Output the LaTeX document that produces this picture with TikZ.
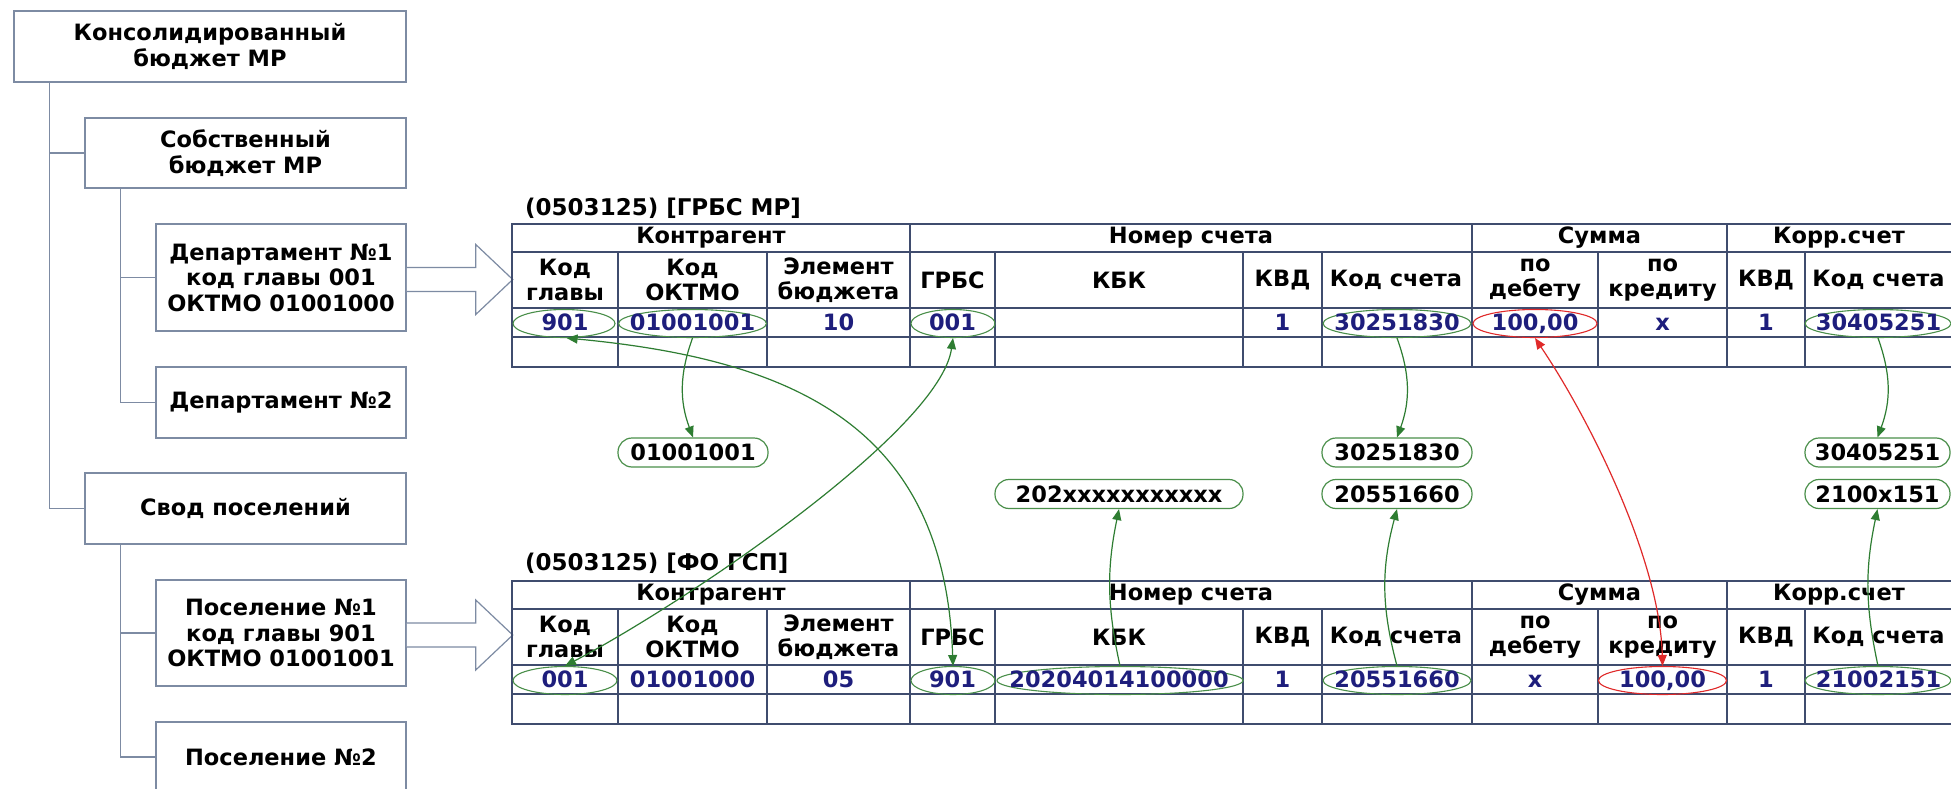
\documentclass[tikz,border=0pt]{standalone}
\usepackage{fontspec}
\setmainfont{DejaVu Sans}
\usetikzlibrary{arrows.meta,shapes.geometric}
\definecolor{boxc}{HTML}{7D8BA3}
\definecolor{gridc}{HTML}{3F4C6E}
\definecolor{valc}{HTML}{1E1E7C}
\definecolor{grn}{HTML}{2E7D32}
\definecolor{ell}{HTML}{4A8F4A}
\definecolor{rd}{HTML}{E02A2A}
\tikzset{
 fnt/.style={font=\bfseries\fontsize{22.5}{25.5}\selectfont},
 lbox/.style={draw=boxc, line width=1.5pt, fill=white, fnt, align=center, inner sep=0pt},
 tree/.style={draw=boxc, line width=1.5pt},
 barrow/.style={draw=boxc, line width=1.2pt, fill=white},
 grid/.style={draw=gridc, line width=1.5pt},
 hdr/.style={fnt, align=center, inner sep=0pt},
 val/.style={fnt, text=valc, inner sep=0pt, text height=16pt, text depth=0pt},
 ov/.style={ellipse, draw=ell, line width=1.1pt, inner sep=0pt, minimum height=28pt},
 ovr/.style={ov, draw=rd},
 pill/.style={draw=ell, rounded corners=14pt, line width=1.2pt, fnt, minimum height=29pt, inner sep=0pt, text height=16pt, text depth=0pt},
 garr/.style={draw=grn, line width=1.2pt, -{Triangle[length=11pt,width=9pt]}},
 garr2/.style={draw=grn, line width=1.2pt, {Triangle[length=11pt,width=9pt]}-{Triangle[length=11pt,width=9pt]}},
 rarr2/.style={draw=rd, line width=1.2pt, {Triangle[length=11pt,width=9pt]}-{Triangle[length=11pt,width=9pt]}}
}
\newcommand\mytab[2]{%
\begin{scope}[yshift=-#2pt]
 \draw[grid] (512,224) rectangle (1952,367);
 \foreach \yy in {252,308,337} \draw[grid] (512,\yy) -- (1952,\yy);
 \foreach \xx in {618,767,995,1243,1322,1598,1805} \draw[grid] (\xx,252) -- (\xx,367);
 \foreach \xx in {910,1472,1727} \draw[grid] (\xx,224) -- (\xx,367);
 \node[hdr] (#1ha) at (711,238) {Контрагент};
 \node[hdr] (#1hb) at (1191,238) {Номер счета};
 \node[hdr] (#1hc) at (1599.5,238) {Сумма};
 \node[hdr] (#1hd) at (1839,238) {Корр.счет};
 \node[hdr] (#1s1) at (565,280) {Код\\главы};
 \node[hdr] (#1s2) at (692.5,280) {Код\\ОКТМО};
 \node[hdr] (#1s3) at (838.5,280) {Элемент\\бюджета};
 \node[hdr] (#1s4) at (952.5,280) {ГРБС};
 \node[hdr] (#1s5) at (1119,280) {КБК};
 \node[hdr] (#1s6) at (1282.5,280) {КВД};
 \node[hdr] (#1s7) at (1396,280) {Код счета};
 \node[hdr] (#1s8) at (1535,280) {по\\дебету};
 \node[hdr] (#1s9) at (1662.5,280) {по\\кредиту};
 \node[hdr] (#1s10) at (1766,280) {КВД};
 \node[hdr] (#1s11) at (1878.5,280) {Код счета};
\end{scope}}
\begin{document}
\begin{tikzpicture}[x=1pt,y=-1pt]
\useasboundingbox (0,0) rectangle (1951,789);
\clip (0,0) rectangle (1951,789);
\fill[white] (0,0) rectangle (1951,789);

% left hierarchy
\node[lbox, minimum width=392pt, minimum height=71pt] (b1) at (210,46.5) {Консолидированный\\бюджет МР};
\node[lbox, minimum width=321pt, minimum height=70pt] (b2) at (245.5,153) {Собственный\\бюджет МР};
\node[lbox, minimum width=250pt, minimum height=107pt] (b3) at (281,277.5) {Департамент №1\\код главы 001\\ОКТМО 01001000};
\node[lbox, minimum width=250pt, minimum height=71pt] (b4) at (281,402.5) {Департамент №2};
\node[lbox, minimum width=321pt, minimum height=71pt] (b5) at (245.5,508.5) {Свод поселений};
\node[lbox, minimum width=250pt, minimum height=106pt] (b6) at (281,633) {Поселение №1\\код главы 901\\ОКТМО 01001001};
\node[lbox, minimum width=250pt, minimum height=70pt] (b7) at (281,757) {Поселение №2};

\draw[tree] ([xshift=36pt]b1.south west) |- (b2.west);
\draw[tree] ([xshift=36pt]b1.south west) |- (b5.west);
\draw[tree] ([xshift=36pt]b2.south west) |- (b3.west);
\draw[tree] ([xshift=36pt]b2.south west) |- (b4.west);
\draw[tree] ([xshift=36pt]b5.south west) |- (b6.west);
\draw[tree] ([xshift=36pt]b5.south west) |- (b7.west);

% block arrows
\draw[barrow] (b3.east) ++(0,-10) -- ++(69,0) -- ++(0,-23) -- ++(37,35) -- ++(-37,35) -- ++(0,-23) -- ++(-69,0);
\draw[barrow] (b6.east) ++(0,-10) -- ++(69,0) -- ++(0,-23) -- ++(37,35) -- ++(-37,35) -- ++(0,-23) -- ++(-69,0);

% titles
\node[fnt, anchor=west, inner sep=0pt, font=\bfseries\fontsize{23}{26}\selectfont] (ti1) at (525,208) {(0503125) [ГРБС МР]};
\node[fnt, anchor=west, inner sep=0pt, font=\bfseries\fontsize{23}{26}\selectfont] (ti2) at (525,563) {(0503125) [ФО ГСП]};

% tables
\mytab{ta}{0}
\mytab{tb}{357}

% table 1 data
\node[ov, minimum width=102pt] (e1gl) at (564,323.5) {};
\node[ov, minimum width=148pt] (e1okt) at (692.5,323.5) {};
\node[ov, minimum width=84pt] (e1grbs) at (953,323.5) {};
\node[ov, minimum width=148pt] (e1ks) at (1397,323.5) {};
\node[ovr, minimum width=124pt] (e1deb) at (1535,323.5) {};
\node[ov, minimum width=146pt] (e1kk) at (1878,323.5) {};
\node[val] (v1a) at (565,322.5) {901};
\node[val] (v1b) at (692.5,322.5) {01001001};
\node[val] (v1c) at (838.5,322.5) {10};
\node[val] (v1d) at (952.5,322.5) {001};
\node[val] (v1f) at (1282.5,322.5) {1};
\node[val] (v1g) at (1397,322.5) {30251830};
\node[val] (v1h) at (1535,322.5) {100,00};
\node[val] (v1i) at (1662.5,322.5) {x};
\node[val] (v1j) at (1766,322.5) {1};
\node[val] (v1k) at (1878.5,322.5) {30405251};

% table 2 data
\node[ov, minimum width=104pt] (e2gl) at (565,680.5) {};
\node[ov, minimum width=84pt] (e2grbs) at (953,680.5) {};
\node[ov, minimum width=246pt] (e2kbk) at (1120,680.5) {};
\node[ov, minimum width=148pt] (e2ks) at (1397,680.5) {};
\node[ovr, minimum width=128pt] (e2kred) at (1662.5,680.5) {};
\node[ov, minimum width=146pt] (e2kk) at (1878,680.5) {};
\node[val] (v2a) at (565,679.5) {001};
\node[val] (v2b) at (692.5,679.5) {01001000};
\node[val] (v2c) at (838.5,679.5) {05};
\node[val] (v2d) at (952.5,679.5) {901};
\node[val] (v2e) at (1119,679.5) {20204014100000};
\node[val] (v2f) at (1282.5,679.5) {1};
\node[val] (v2g) at (1397,679.5) {20551660};
\node[val] (v2h) at (1535,679.5) {x};
\node[val] (v2i) at (1662.5,679.5) {100,00};
\node[val] (v2j) at (1766,679.5) {1};
\node[val] (v2k) at (1878.5,679.5) {21002151};

% pills
\node[pill, minimum width=150pt] (p1) at (693,452.5) {01001001};
\node[pill, minimum width=248pt] (p2) at (1119,494) {202xxxxxxxxxxx};
\node[pill, minimum width=150pt] (p3) at (1397,452.5) {30251830};
\node[pill, minimum width=150pt] (p4) at (1397,494) {20551660};
\node[pill, minimum width=145pt] (p5) at (1877.5,452.5) {30405251};
\node[pill, minimum width=145pt] (p6) at (1877.5,494) {2100x151};

% connectors
\draw[garr] (e1okt.south) to[bend right=20] (p1.north);
\draw[garr] (e1ks.south) to[bend left=20] (p3.north);
\draw[garr] (e1kk.south) to[bend left=20] (p5.north);
\draw[garr] (e2kbk.north) to[bend left=12] (p2.south);
\draw[garr] (e2ks.north) to[bend left=15] (p4.south);
\draw[garr] (e2kk.north) to[bend left=12] (p6.south);
\draw[garr2] (e1gl.-80) .. controls (800,360) and (945,430) .. (e2grbs.north);
\draw[garr2] (e1grbs.south) .. controls (940,430) and (690,600) .. (e2gl.north);
\draw[rarr2] (e1deb.south) .. controls (1590,420) and (1660,560) .. (e2kred.north);
\end{tikzpicture}
\end{document}
